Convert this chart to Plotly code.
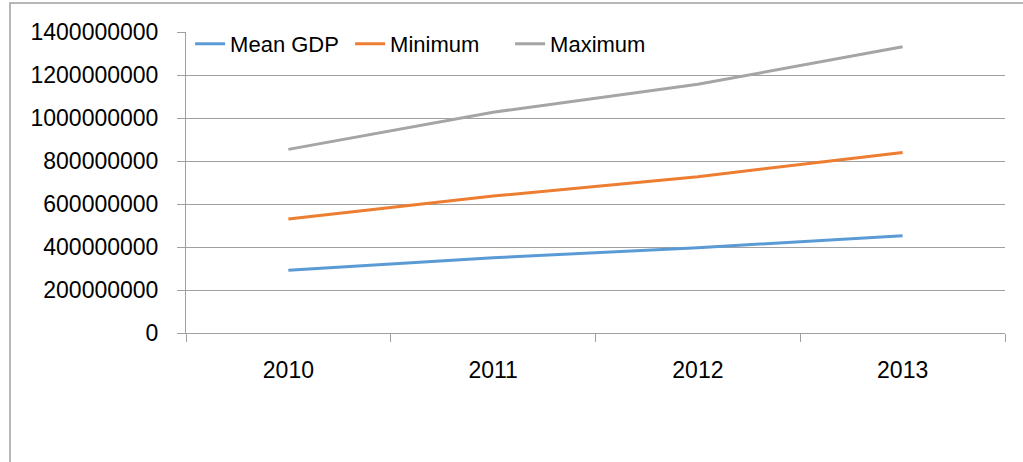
import plotly.graph_objects as go

years = ["2010", "2011", "2012", "2013"]
mean_gdp = [292e6, 350e6, 397e6, 452e6]
minimum = [530e6, 637e6, 727e6, 840e6]
maximum = [854e6, 1027e6, 1157e6, 1331e6]

series = [
    ("Mean GDP", mean_gdp, "#5B9BD5"),
    ("Minimum", minimum, "#ED7D31"),
    ("Maximum", maximum, "#A5A5A5"),
]

fig = go.Figure()
for name, vals, color in series:
    fig.add_trace(go.Scatter(x=years, y=vals, name=name, mode="lines",
                             line=dict(color=color, width=3)))

FONT = "Liberation Sans"
L, R, T, B = 186, 18, 32, 129
W, H = 1023, 462
pw = W - L - R
ph = H - T - B

fig.update_layout(
    width=W, height=H,
    margin=dict(l=L, r=R, t=T, b=B, pad=0),
    paper_bgcolor="white", plot_bgcolor="white",
    font=dict(family=FONT, size=23, color="#000000"),
    showlegend=True,
    legend=dict(orientation="h", x=0.005, xanchor="left", y=1.03, yanchor="top",
                bgcolor="rgba(0,0,0,0)", font=dict(size=22),
                itemwidth=30, tracegroupgap=0, entrywidth=115),
    xaxis=dict(type="category", range=[-0.5, 3.5], showgrid=False,
               showline=True, linecolor="#A0A0A0", linewidth=1,
               ticks="outside", tickson="boundaries", ticklen=8,
               tickcolor="#A0A0A0", tickfont=dict(size=23),
               ticklabelstandoff=16),
    yaxis=dict(range=[0, 1400e6], dtick=200e6, tick0=0, tickformat="d",
               showgrid=True, gridcolor="#A0A0A0", gridwidth=1,
               showline=True, linecolor="#A0A0A0", linewidth=1,
               ticks="outside", ticklen=8, tickcolor="#A0A0A0",
               tickfont=dict(size=23), ticklabelstandoff=14,
               zeroline=False),
)

# outer chart border
x0 = (10 - L) / pw
y1 = 1 + (T - 3) / ph
fig.add_shape(type="rect", xref="paper", yref="paper",
              x0=x0, x1=1 + (R + 20) / pw, y0=-2, y1=y1,
              line=dict(color="#A0A0A0", width=1.5), layer="below")

fig.write_html("out.html")
